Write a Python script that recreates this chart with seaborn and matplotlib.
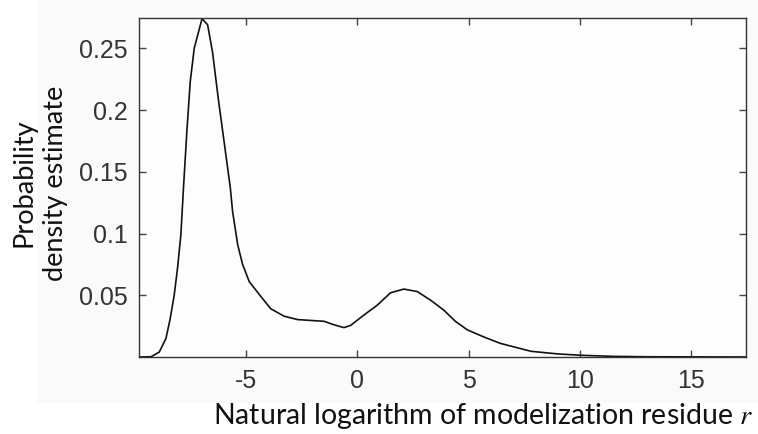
import matplotlib
matplotlib.use("Agg")
import matplotlib.pyplot as plt
import matplotlib.patches as mpatches
import seaborn as sns
import pandas as pd

# Kernel density estimate of log residue, sampled along the curve
log_residue = [-9.8, -9.26, -8.89, -8.59, -8.4, -8.22, -8.07, -7.92, -7.8, -7.65,
               -7.5, -7.32, -6.97, -6.72, -6.5, -6.24, -6.0, -5.7, -5.6, -5.37,
               -5.15, -4.85, -4.33, -3.88, -3.28, -2.68, -1.49, -1.12, -0.6, -0.3,
               0.3, 0.9, 1.49, 2.09, 2.69, 3.29, 3.88, 4.41, 4.93, 5.68,
               6.43, 7.8, 9.0, 10.04, 11.5, 13.0, 15.0, 17.5]
density = [0.0, 0.0002, 0.004, 0.015, 0.031, 0.05, 0.072, 0.099, 0.138, 0.183,
           0.223, 0.25, 0.274, 0.269, 0.247, 0.209, 0.177, 0.137, 0.118, 0.091,
           0.075, 0.061, 0.049, 0.039, 0.033, 0.0303, 0.0289, 0.0265, 0.0238, 0.0256,
           0.034, 0.042, 0.052, 0.055, 0.053, 0.046, 0.038, 0.0288, 0.0221, 0.0162,
           0.011, 0.0046, 0.0025, 0.0014, 0.0005, 0.0002, 0.0001, 0.0]

x_ticks = [-5, 0, 5, 10, 15]
y_ticks = [0.05, 0.1, 0.15, 0.2, 0.25]
y_tick_labels = ["0.05", "0.1", "0.15", "0.2", "0.25"]

df = pd.DataFrame({"r": log_residue, "pdf": density})

sns.set_style("white")
plt.rcParams["mathtext.fontset"] = "stix"

fig = plt.figure(figsize=(7.58, 4.34), dpi=100)
fig.patch.set_facecolor("white")
# light panel behind the plot area and tick labels
fig.patches.append(mpatches.Rectangle((37 / 758, (434 - 403) / 434), 1 - 37 / 758, 403 / 434,
                                      transform=fig.transFigure, facecolor="#fafafa",
                                      edgecolor="none", zorder=-10))

ax = fig.add_axes([139 / 758, (434 - 357) / 434, (746 - 139) / 758, (357 - 18) / 434])
ax.set_facecolor("#fdfdfd")

sns.lineplot(data=df, x="r", y="pdf", ax=ax, color="#111111", linewidth=1.2)

ax.set_xlim(-9.8, 17.45)
ax.set_ylim(0, 0.2745)
ax.set_xticks(x_ticks)
ax.set_xticklabels([str(t) for t in x_ticks])
ax.set_yticks(y_ticks)
ax.set_yticklabels(y_tick_labels)
ax.set_xlabel("")
ax.set_ylabel("")

for s in ax.spines.values():
    s.set_visible(True)
    s.set_color("#333333")
    s.set_linewidth(1.0)

ax.tick_params(axis="both", direction="in", length=5, width=1.0, color="#444444",
               top=True, right=True, bottom=True, left=True,
               labelsize=18, labelcolor="#333333", labelfontfamily="Liberation Sans")
ax.tick_params(axis="x", pad=9)
ax.tick_params(axis="y", pad=8)

fig.text(40 / 758, 1 - 183 / 434, "Probability\ndensity estimate", rotation=90,
         ha="center", va="center", multialignment="center",
         fontsize=19.5, family="Lato", color="#111111", linespacing=1.35)
fig.text(483 / 758, 1 - 416 / 434, r"Natural logarithm of modelization residue $r$",
         ha="center", va="center", fontsize=20.5, family="Lato", color="#111111")

fig.savefig("out.png", dpi=100)
